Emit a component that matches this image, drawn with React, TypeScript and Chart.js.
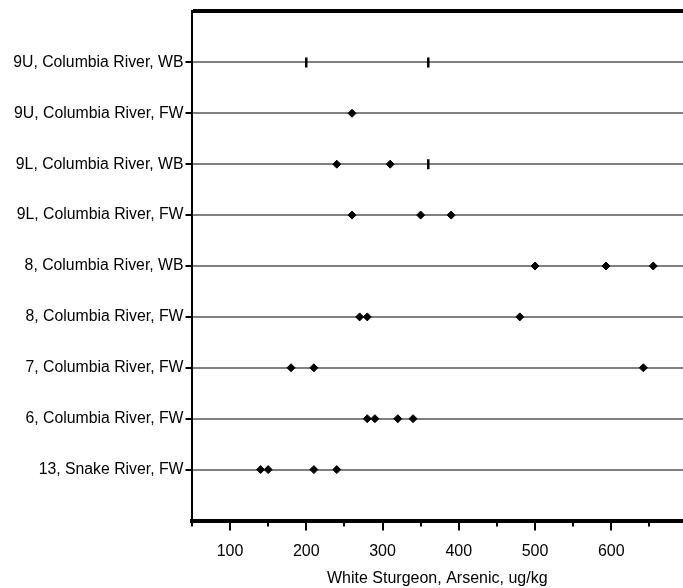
import React, { useEffect, useRef } from 'react';
import { Chart, registerables } from 'chart.js';

Chart.register(...registerables);

// Categories from bottom (y = 1) to top (y = 9)
const categories = [
  '13, Snake River, FW',
  '6, Columbia River, FW',
  '7, Columbia River, FW',
  '8, Columbia River, FW',
  '8, Columbia River, WB',
  '9L, Columbia River, FW',
  '9L, Columbia River, WB',
  '9U, Columbia River, FW',
  '9U, Columbia River, WB',
];

// Diamond markers (measured values), same order as categories
const snake13FW = [140, 150, 210, 240];
const col6FW = [280, 290, 320, 340];
const col7FW = [180, 210, 642];
const col8FW = [270, 280, 480];
const col8WB = [500, 593, 655];
const col9LFW = [260, 350, 390];
const col9LWB = [240, 310];
const col9UFW = [260];
const col9UWB: number[] = [];
const diamondValues = [snake13FW, col6FW, col7FW, col8FW, col8WB, col9LFW, col9LWB, col9UFW, col9UWB];

// Vertical bar markers
const barValues: number[][] = [[], [], [], [], [], [], [360], [], [200, 360]];

const xTicks = [50, 100, 150, 200, 250, 300, 350, 400, 450, 500, 550, 600, 650];
const xLabelTicks = [100, 200, 300, 400, 500, 600];
const xTitle = 'White Sturgeon, Arsenic, ug/kg';
const xMin = 49.5;
const xMax = 694;

const FONT = "'Liberation Sans', Arial, sans-serif";

const xTickPlugin = {
  id: 'xTickMarks',
  afterDraw(chart: any) {
    const xs = chart.scales.x;
    const ctx = chart.ctx;
    ctx.save();
    ctx.strokeStyle = '#000';
    ctx.lineWidth = 2;
    for (const v of xTicks) {
      const px = Math.round(xs.getPixelForValue(v));
      const len = xLabelTicks.includes(v) ? 10 : 6;
      ctx.beginPath();
      ctx.moveTo(px, xs.top);
      ctx.lineTo(px, xs.top + len);
      ctx.stroke();
    }
    ctx.restore();
  },
};

export default function App() {
  const ref = useRef<HTMLCanvasElement | null>(null);

  useEffect(() => {
    if (!ref.current) return;
    const diamonds = diamondValues.flatMap((vals, i) => vals.map((v) => ({ x: v, y: i + 1 })));
    const bars = barValues.flatMap((vals, i) => vals.map((v) => ({ x: v, y: i + 1 })));
    const chart = new Chart(ref.current, {
      type: 'scatter',
      data: {
        datasets: [
          {
            data: diamonds,
            pointStyle: 'rectRot',
            pointRadius: 4,
            backgroundColor: '#000',
            borderColor: '#000',
            borderWidth: 1,
          },
          {
            data: bars,
            pointStyle: 'line',
            pointRotation: 90,
            pointRadius: 5,
            borderColor: '#000',
            backgroundColor: '#000',
            borderWidth: 2.5,
          },
        ],
      },
      options: {
        responsive: false,
        animation: false,
        layout: { autoPadding: false, padding: { top: 8, right: 0, left: 0, bottom: 0 } },
        plugins: { legend: { display: false }, tooltip: { enabled: false } },
        scales: {
          x: {
            type: 'linear',
            min: xMin,
            max: xMax,
            afterBuildTicks: (s: any) => {
              s.ticks = xTicks.map((v) => ({ value: v }));
            },
            afterFit: (s: any) => {
              s.height = 67.5;
            },
            ticks: {
              autoSkip: false,
              maxRotation: 0,
              padding: 21,
              color: '#000',
              font: { family: FONT, size: 16 },
              callback: (v: any) => (xLabelTicks.includes(Number(v)) ? String(v) : ''),
            },
            grid: { display: false, drawTicks: false },
            border: { display: true, color: '#000', width: 4 },
            title: {
              display: true,
              text: xTitle,
              color: '#000',
              font: { family: FONT, size: 16 },
              padding: { top: 0, bottom: 0 },
            },
          },
          y: {
            type: 'linear',
            min: 0,
            max: 10,
            afterFit: (s: any) => {
              s.width = 191.5;
            },
            ticks: {
              stepSize: 1,
              autoSkip: false,
              padding: 2,
              color: '#000',
              font: { family: FONT, size: 15.8 },
              callback: (v: any) => {
                const n = Number(v);
                return n >= 1 && n <= 9 && Number.isInteger(n) ? categories[n - 1] : '';
              },
            },
            grid: {
              color: (c: any) =>
                c.tick && c.tick.value === 10 ? '#000' : c.tick && c.tick.value === 0 ? 'rgba(0,0,0,0)' : '#808080',
              lineWidth: (c: any) => (c.tick && c.tick.value === 10 ? 4 : 2),
              tickColor: (c: any) =>
                c.tick && c.tick.value >= 1 && c.tick.value <= 9 ? '#000' : 'rgba(0,0,0,0)',
              tickLength: 6,
              tickWidth: 2,
              drawTicks: true,
            },
            border: { display: true, color: '#000', width: 2 },
          },
        },
      },
      plugins: [xTickPlugin],
    } as any);
    return () => chart.destroy();
  }, []);

  return (
    <div style={{ position: 'absolute', left: 0, top: 0, width: 683, height: 588, background: '#fff' }}>
      <canvas ref={ref} width={683} height={588} />
    </div>
  );
}
